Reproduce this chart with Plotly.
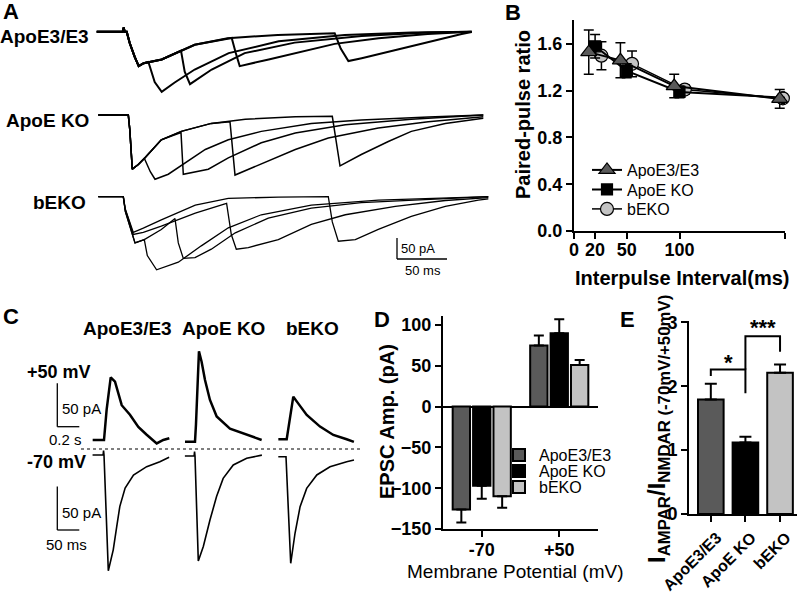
import plotly.graph_objects as go

W, H = 800, 593
FONT = "Liberation Sans, Arial, Helvetica, sans-serif"

# ---------------------------------------------------------------- data
groups = ["ApoE3/E3", "ApoE KO", "bEKO"]
bar_colors = ["#5a5a5a", "#000000", "#c3c3c3"]

# Panel A: paired-pulse EPSC traces, time (ms) from 1st stimulus, current (pA)
a_e3_20_t = [-30, -4, -3, -2, 0, 3, 8, 12, 17, 21.7, 28, 35, 48, 68, 102, 152, 218, 285, 345]
a_e3_20_i = [0, 0, 10, 0, 0, -27, -60, -82, -75, -72, -120, -143, -121, -90, -51, -23, -8, -2, 0]
a_e3_50_t = [-30, -4, -3, -2, 0, 3, 8, 12, 17, 35, 54.3, 58, 63.3, 85, 118, 168, 235, 301, 345]
a_e3_50_i = [0, 0, 10, 0, 0, -27, -60, -82, -75, -66, -45, -95, -125, -90, -51, -26, -10, -2, 0]
a_e3_100_t = [-30, -4, -3, -2, 0, 3, 8, 12, 17, 35, 68, 105, 109, 113, 142, 175, 208, 252, 301, 345]
a_e3_100_i = [0, 0, 10, 0, 0, -27, -60, -82, -75, -66, -31, -15, -50, -82, -66, -47, -29, -15.6, -5.5, 0]
a_e3_200_t = [-30, -4, -3, -2, 0, 3, 8, 12, 17, 35, 68, 101, 151, 208, 214, 221.7, 235, 268, 301, 335, 345]
a_e3_200_i = [0, 0, 10, 0, 0, -27, -60, -82, -75, -66, -31, -15.6, -7.7, -3.5, -40, -70, -63, -43.6, -23.8, -5.5, -1]

a_ko_20_t = [-30, 0, 1.5, 4, 10, 16, 22, 26.7, 40, 53, 77, 100, 133, 183, 233, 300, 355]
a_ko_20_i = [0, 0, -35, -129, -118, -103, -135, -153, -141, -121, -82, -59, -39, -20, -12, -5, 0]
a_ko_50_t = [-30, 0, 1.5, 4, 10, 16.7, 33, 52.7, 55, 66.7, 80, 100, 133, 167, 217, 283, 355]
a_ko_50_i = [0, 0, -35, -129, -118, -102, -59, -42, -141, -135, -129, -102, -66, -43, -23, -10, 0]
a_ko_100_t = [-30, 0, 1.5, 4, 10, 16.7, 33, 53, 83, 101.7, 106.7, 133, 167, 200, 250, 300, 355]
a_ko_100_i = [0, 0, -35, -129, -118, -102, -59, -39, -20, -16, -143, -117, -82, -55, -31, -16, -4]
a_ko_200_t = [-30, 0, 1.5, 4, 10, 16.7, 33, 53, 83, 117, 167, 204, 211.7, 233, 260, 283, 317, 355]
a_ko_200_i = [0, 0, -35, -129, -118, -102, -59, -39, -20, -10, -4, -3, -121, -94, -63, -39, -20, -8]

a_bk_20_t = [-25, 0, 2, 11.7, 21, 24, 33.3, 55, 78, 105, 138, 188, 255, 365]
a_bk_20_i = [0, 0, -35, -110, -102, -140, -174, -156, -117, -74, -43, -20, -8, 0]
a_bk_50_t = [-25, 0, 2, 11.7, 21, 38, 51.7, 55, 60, 71.7, 88, 112, 145, 188, 238, 305, 365]
a_bk_50_i = [0, 0, -35, -110, -102, -78, -52, -110, -147, -145, -125, -86, -51, -27, -14, -6, 0]
a_bk_100_t = [-25, 0, 2, 10, 20, 38, 72, 103.3, 108, 113, 125, 155, 188, 222, 272, 322, 365]
a_bk_100_i = [0, 0, -30, -90, -85, -70, -39, -16, -90, -125, -121, -102, -66, -43, -23, -9, -2]
a_bk_200_t = [-25, 0, 2, 10, 20, 38, 72, 105, 155, 205, 209, 215, 232, 255, 288, 322, 355, 365]
a_bk_200_i = [0, 0, -30, -85, -75, -55, -20, -4, -1, 0, -60, -106, -102, -78, -47, -23, -8, -5]

# Panel B: paired-pulse ratio
ppr_ticks = [0, 20, 50, 100, 200]
ppr_x_e3 = [14, 44, 95, 195]
ppr_y_e3 = [1.53, 1.46, 1.24, 1.13]
ppr_err_e3 = [0.19, 0.15, 0.10, 0.08]
ppr_x_ko = [20, 50, 100, 201]
ppr_y_ko = [1.58, 1.37, 1.19, 1.14]
ppr_err_ko = [0.10, 0.06, 0.05, 0.05]
ppr_x_bk = [26, 55, 105, 198]
ppr_y_bk = [1.50, 1.43, 1.21, 1.135]
ppr_err_bk = [0.12, 0.11, 0.04, 0.04]

# Panel C: example EPSCs, time (ms) from stimulus, current (pA)
c_pos_e3_t = [-103, 0, 24, 61, 100, 145, 161, 236, 312, 388, 479, 539, 594]
c_pos_e3_i = [0, 0, 35, 72, 67, 48, 40, 29, 15, 6, -4, 0, 2]
c_pos_ko_t = [-91, 0, 9, 36, 60, 91, 136, 197, 318, 470, 606]
c_pos_ko_i = [0, 0, 20, 104, 92, 71, 48, 29, 15, 8, 2]
c_pos_bk_t = [-76, 0, 12, 60, 106, 182, 303, 424, 545, 611]
c_pos_bk_i = [0, 0, 10, 49, 41, 28, 14.6, 5, 0, -3]
c_neg_e3_t = [-26, -2, -1, 0, 9.8, 21, 29, 36, 48, 67, 97, 127, 148]
c_neg_e3_i = [0, 0, 5, 0, -133, -109, -82, -59, -38, -23, -13.4, -7.7, -2.6]
c_neg_ko_t = [-23, -2, -1, 0, 7.5, 18.9, 34, 49, 64, 87, 117.5, 152]
c_neg_ko_i = [0, 0, 5, 0, -120.7, -104, -73.6, -46.6, -25.7, -10.3, -2.6, 1]
c_neg_bk_t = [-17.5, 0, 10.7, 20.5, 32, 47, 70, 100, 138, 154.5]
c_neg_bk_i = [0, 0, -122.5, -88, -57.5, -36.4, -21, -11.5, -5.7, -3.8]

# Panel D: EPSC amplitude (pA)
d_potentials = ["-70", "+50"]
d_e3 = [-126, 75]
d_e3_err = [16, 12]
d_ko = [-97, 90]
d_ko_err = [16, 17]
d_bk = [-110, 51]
d_bk_err = [14, 6]

# Panel E: AMPA/NMDA ratio
e_ratio = [1.79, 1.12, 2.21]
e_err = [0.25, 0.09, 0.13]

# ---------------------------------------------------------------- helpers
fig = go.Figure()
layout = dict(template="none", width=W, height=H, margin=dict(l=0, r=0, t=0, b=0, pad=0),
              autosize=False,
              paper_bgcolor="white", plot_bgcolor="rgba(0,0,0,0)",
              font=dict(family=FONT, color="black"), showlegend=True,
              bargap=0.21, bargroupgap=0.15, barmode="group")
annotations = []
shapes = []


def names(n):
    if n == 1:
        return "xaxis", "yaxis", "x", "y"
    return f"xaxis{n}", f"yaxis{n}", f"x{n}", f"y{n}"


def px_x(x):
    return x / W


def px_y(y):
    return 1 - y / H


def ann(text, x, y, size, bold=False, xanchor="center", yanchor="middle", angle=0):
    annotations.append(dict(text=f"<b>{text}</b>" if bold else text, x=px_x(x), y=px_y(y),
                            xref="paper", yref="paper", showarrow=False,
                            font=dict(family=FONT, size=size, color="black"),
                            xanchor=xanchor, yanchor=yanchor, textangle=angle))


def line_trace(n, t, i, width):
    _, _, xr, yr = names(n)
    fig.add_trace(go.Scatter(x=t, y=i, mode="lines", line=dict(color="black", width=width),
                             xaxis=xr, yaxis=yr, showlegend=False, hoverinfo="skip"))


def hidden_axes(n, xpx, ypx, stim_px, base_px, ms_px, pa_px):
    xa, ya, xr, yr = names(n)
    layout[xa] = dict(domain=[px_x(xpx[0]), px_x(xpx[1])],
                      range=[(xpx[0] - stim_px) / ms_px, (xpx[1] - stim_px) / ms_px],
                      visible=False, anchor=yr, fixedrange=True, automargin=False)
    layout[ya] = dict(domain=[px_y(ypx[1]), px_y(ypx[0])],
                      range=[-(ypx[1] - base_px) / pa_px, (base_px - ypx[0]) / pa_px],
                      visible=False, anchor=xr, fixedrange=True, automargin=False)


def scale_bar(n, corner_t, corner_i, dt, di, width=1.3):
    _, _, xr, yr = names(n)
    shapes.append(dict(type="line", xref=xr, yref=yr, x0=corner_t, x1=corner_t,
                       y0=corner_i, y1=corner_i + di, line=dict(color="black", width=width)))
    shapes.append(dict(type="line", xref=xr, yref=yr, x0=corner_t, x1=corner_t + dt,
                       y0=corner_i, y1=corner_i, line=dict(color="black", width=width)))


def legend_box(x, y):
    return dict(x=px_x(x), y=px_y(y), xanchor="left", yanchor="middle",
                bgcolor="rgba(0,0,0,0)", borderwidth=0,
                font=dict(family=FONT, size=16, color="black"))


axis_line = dict(showline=True, linecolor="black", linewidth=2, ticks="outside",
                 ticklen=6, tickwidth=2, tickcolor="black", showgrid=False, zeroline=False,
                 fixedrange=True, automargin=False)


def tfont(size):
    return dict(family=FONT, size=size, color="black", weight="bold")


# ---------------------------------------------------------------- panel A
A_XPX = (94, 492)
A_MS_PX = 1.0
A_PA_PX = 0.42
a_rows = [
    (4, (18, 100), 126.7, 31.7,
     [(a_e3_20_t, a_e3_20_i), (a_e3_50_t, a_e3_50_i), (a_e3_100_t, a_e3_100_i), (a_e3_200_t, a_e3_200_i)], 2.0),
    (5, (100, 188), 128.3, 115,
     [(a_ko_20_t, a_ko_20_i), (a_ko_50_t, a_ko_50_i), (a_ko_100_t, a_ko_100_i), (a_ko_200_t, a_ko_200_i)], 1.5),
    (6, (188, 300), 123.3, 196.7,
     [(a_bk_20_t, a_bk_20_i), (a_bk_50_t, a_bk_50_i), (a_bk_100_t, a_bk_100_i), (a_bk_200_t, a_bk_200_i)], 1.3),
]
for n, ypx, stim, base, traces, lw in a_rows:
    hidden_axes(n, A_XPX, ypx, stim, base, A_MS_PX, A_PA_PX)
    for t, i in traces:
        line_trace(n, t, i, lw)

# scale bar (50 pA, 50 ms) in bEKO row
scale_bar(6, 397 - 123.3, -(259 - 196.7) / A_PA_PX, 50, 50)
ann("50 pA", 399, 249, 13, xanchor="left")
ann("50 ms", 423, 270, 13)

ann("ApoE3/E3", 91, 36, 19, bold=True, xanchor="right")
ann("ApoE KO", 91, 120, 19, bold=True, xanchor="right")
ann("bEKO", 88, 202, 19, bold=True, xanchor="right")

# ---------------------------------------------------------------- panel C
C_COLS = [(40, 176), (180, 270), (272, 362)]
c_pos_rows = dict(ypx=(335, 449), stims=[104, 195, 286.7], bases=[440, 441.7, 439.3], ms_px=0.11, pa_px=0.87)
c_neg_rows = dict(ypx=(449, 585), stims=[104, 195, 286], bases=[455, 456, 456.7], ms_px=0.44, pa_px=0.87)
c_pos_data = [(c_pos_e3_t, c_pos_e3_i), (c_pos_ko_t, c_pos_ko_i), (c_pos_bk_t, c_pos_bk_i)]
c_neg_data = [(c_neg_e3_t, c_neg_e3_i), (c_neg_ko_t, c_neg_ko_i), (c_neg_bk_t, c_neg_bk_i)]
for k in range(3):
    n = 7 + k
    hidden_axes(n, C_COLS[k], c_pos_rows["ypx"], c_pos_rows["stims"][k], c_pos_rows["bases"][k],
                c_pos_rows["ms_px"], c_pos_rows["pa_px"])
    line_trace(n, *c_pos_data[k], 2.5)
    n = 10 + k
    hidden_axes(n, C_COLS[k], c_neg_rows["ypx"], c_neg_rows["stims"][k], c_neg_rows["bases"][k],
                c_neg_rows["ms_px"], c_neg_rows["pa_px"])
    line_trace(n, *c_neg_data[k], 1.6)

scale_bar(7, (57.3 - 104) / 0.11, (440 - 426.7) / 0.87, 200, 50)
scale_bar(10, (57.3 - 104) / 0.44, -(530 - 455) / 0.87, 50, 50)
ann("50 pA", 60, 408, 15, xanchor="left")
ann("0.2 s", 65, 439, 15)
ann("50 pA", 60, 512, 15, xanchor="left")
ann("50 ms", 66, 544, 15)

shapes.append(dict(type="line", xref="paper", yref="paper", x0=px_x(81), x1=px_x(362),
                   y0=px_y(449), y1=px_y(449), line=dict(color="#555555", width=1.5, dash="dot")))

ann("ApoE3/E3", 127, 328, 19, bold=True)
ann("ApoE KO", 223, 328, 19, bold=True)
ann("bEKO", 312, 328, 19, bold=True)
ann("+50 mV", 25, 372, 18, bold=True, xanchor="left")
ann("-70 mV", 25, 462, 18, bold=True, xanchor="left")

# ---------------------------------------------------------------- panel B
ppr_series = [
    ("bEKO", ppr_x_bk, ppr_y_bk, ppr_err_bk, "circle", 13, "#c3c3c3", 1.5, "legend3"),
    ("ApoE KO", ppr_x_ko, ppr_y_ko, ppr_err_ko, "square", 11, "#000000", 2, "legend2"),
    ("ApoE3/E3", ppr_x_e3, ppr_y_e3, ppr_err_e3, "triangle-up", 14, "#5a5a5a", 2, "legend"),
]
for name, xs, ys, es, sym, size, col, lw, leg in ppr_series:
    fig.add_trace(go.Scatter(
        x=xs, y=ys, name=name, mode="lines+markers", legend=leg,
        line=dict(color="black", width=lw),
        marker=dict(symbol=sym, size=size, color=col, line=dict(color="black", width=1.2)),
        error_y=dict(type="data", array=es, color="black", thickness=1.5, width=5),
        xaxis="x", yaxis="y", cliponaxis=False, hoverinfo="skip"))

layout["xaxis"] = dict(domain=[px_x(574), px_x(785)], range=[0, 200], anchor="y",
                       tickvals=ppr_ticks, tickfont=tfont(18), ticklabelstandoff=-5, **axis_line)
layout["yaxis"] = dict(domain=[px_y(231), px_y(20)], range=[0, 1.805], anchor="x",
                       tickvals=[0, 0.4, 0.8, 1.2, 1.6], ticktext=["0.0", "0.4", "0.8", "1.2", "1.6"],
                       tickfont=tfont(18), **axis_line)
layout["legend"] = legend_box(587, 170)
layout["legend2"] = legend_box(587, 189.5)
layout["legend3"] = legend_box(587, 209)
ann("Paired-pulse ratio", 523, 115, 20, bold=True, angle=-90)
ann("Interpulse Interval(ms)", 682, 278, 20, bold=True)

# ---------------------------------------------------------------- panel D
for name, vals, errs, col, leg in [("ApoE3/E3", d_e3, d_e3_err, bar_colors[0], "legend4"),
                                   ("ApoE KO", d_ko, d_ko_err, bar_colors[1], "legend5"),
                                   ("bEKO", d_bk, d_bk_err, bar_colors[2], "legend6")]:
    fig.add_trace(go.Bar(
        x=[0, 1], y=vals, name=name, legend=leg,
        marker=dict(color=col, line=dict(color="black", width=2)),
        error_y=dict(type="data", symmetric=False,
                     array=[e if v > 0 else 0 for v, e in zip(vals, errs)],
                     arrayminus=[e if v < 0 else 0 for v, e in zip(vals, errs)],
                     color="black", thickness=2, width=5),
        xaxis="x2", yaxis="y2", hoverinfo="skip"))

layout["xaxis2"] = dict(domain=[px_x(443), px_x(598)], range=[-0.5, 1.5], anchor="y2",
                        tickvals=[0, 1], ticktext=d_potentials, tickfont=tfont(18),
                        ticklabelstandoff=-3, **axis_line)
d_y_axis = dict(axis_line)
d_y_axis.update(zeroline=True, zerolinecolor="black", zerolinewidth=2)
layout["yaxis2"] = dict(domain=[px_y(529), px_y(316)], range=[-150, 111], anchor="x2",
                        tickvals=[-150, -100, -50, 0, 50, 100], tickfont=tfont(18), **d_y_axis)
layout["legend4"] = legend_box(499, 455)
layout["legend5"] = legend_box(499, 471)
layout["legend6"] = legend_box(499, 487)
ann("EPSC Amp. (pA)", 387, 422, 20, bold=True, angle=-90)
ann("Membrane Potential (mV)", 515, 571, 19)

# ---------------------------------------------------------------- panel E
fig.add_trace(go.Bar(
    x=[0, 1, 2], y=e_ratio, width=0.74, showlegend=False,
    marker=dict(color=bar_colors, line=dict(color="black", width=2)),
    error_y=dict(type="data", symmetric=False, array=e_err, arrayminus=[0, 0, 0],
                 color="black", thickness=2, width=6),
    xaxis="x3", yaxis="y3", hoverinfo="skip"))
layout["xaxis3"] = dict(domain=[px_x(689), px_x(797)], range=[-0.63, 2.49], anchor="y3",
                        tickvals=[0, 1, 2], ticktext=groups, tickangle=-45, tickfont=tfont(16),
                        ticklabelshift=6, **axis_line)
layout["yaxis3"] = dict(domain=[px_y(514), px_y(321)], range=[0, 3.02], anchor="x3",
                        tickvals=[0, 1, 2, 3], tickfont=tfont(18), **axis_line)
shapes.append(dict(type="path", xref="x3", yref="y3", path="M 0,2.16 L 0,2.26 L 1,2.26 L 1,1.89",
                   line=dict(color="black", width=2)))
shapes.append(dict(type="path", xref="x3", yref="y3", path="M 1,2.26 L 1,2.78 L 2,2.78 L 2,2.54",
                   line=dict(color="black", width=2)))
annotations.append(dict(text="<b>*</b>", x=0.5, y=2.15, xref="x3", yref="y3", showarrow=False,
                        yanchor="bottom", font=dict(family=FONT, size=22, color="black")))
annotations.append(dict(text="<b>***</b>", x=1.5, y=2.69, xref="x3", yref="y3", showarrow=False,
                        yanchor="bottom", font=dict(family=FONT, size=22, color="black")))
ann("I<sub>AMPAR</sub>/I<sub>NMDAR (-70mV/+50mV)</sub>", 658, 429, 24, bold=True, angle=-90)

# ---------------------------------------------------------------- panel letters
ann("A", 11, 11, 22, bold=True)
ann("B", 513, 13, 22, bold=True)
ann("C", 11, 316, 22, bold=True)
ann("D", 382, 319, 22, bold=True)
ann("E", 627, 319, 22, bold=True)

layout["annotations"] = annotations
layout["shapes"] = shapes
fig.update_layout(**layout)
fig.write_html("out.html", config={"displayModeBar": False},
               post_script="document.body.style.margin='0px';document.body.style.padding='0px';")
